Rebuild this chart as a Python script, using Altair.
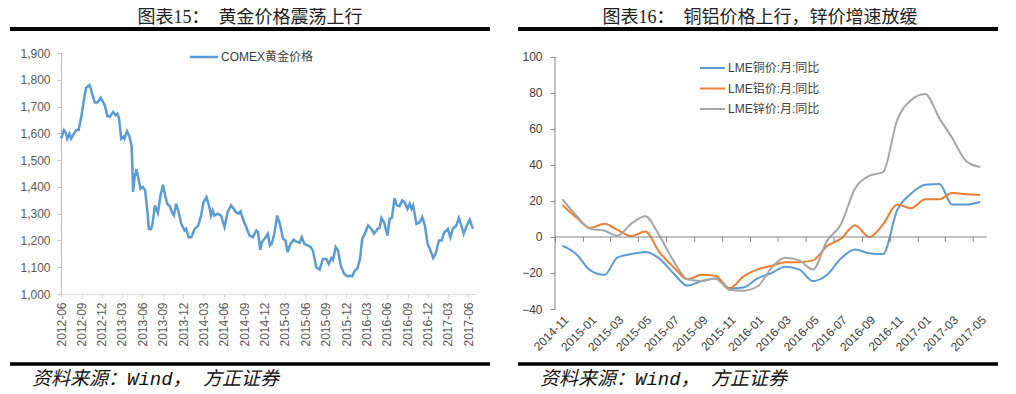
import altair as alt
import pandas as pd

# ---------------- data: left panel (COMEX gold) ----------------
gold_dates = [
    "2012-06-01","2012-06-14","2012-06-24","2012-06-29","2012-07-09","2012-07-16","2012-08-08","2012-08-19","2012-08-31","2012-09-15",
    "2012-09-22","2012-10-07","2012-10-14","2012-10-30","2012-11-11","2012-11-26","2012-12-06","2012-12-14","2012-12-26","2013-01-06",
    "2013-01-21","2013-01-31","2013-02-09","2013-02-16","2013-02-26","2013-03-08","2013-03-12","2013-03-24","2013-04-04","2013-04-14",
    "2013-04-20","2013-04-26","2013-05-05","2013-05-14","2013-05-23","2013-06-03","2013-06-13","2013-06-22","2013-06-30","2013-07-10",
    "2013-07-17","2013-07-27","2013-08-09","2013-08-21","2013-09-01","2013-09-11","2013-09-20","2013-10-01","2013-10-11","2013-10-20",
    "2013-10-30","2013-11-10","2013-11-22","2013-12-07","2013-12-14","2013-12-25","2014-01-06","2014-01-21","2014-02-05","2014-02-19",
    "2014-03-02","2014-03-15","2014-03-28","2014-04-04","2014-04-12","2014-04-19","2014-05-04","2014-05-19","2014-06-04","2014-06-18",
    "2014-07-03","2014-07-15","2014-07-25","2014-08-06","2014-08-15","2014-08-25","2014-09-09","2014-09-24","2014-10-09","2014-10-24",
    "2014-11-01","2014-11-11","2014-11-18","2014-11-30","2014-12-15","2014-12-24","2015-01-01","2015-01-13","2015-01-26","2015-02-07",
    "2015-02-21","2015-03-04","2015-03-14","2015-03-26","2015-04-10","2015-04-21","2015-05-06","2015-05-16","2015-05-28","2015-06-13",
    "2015-06-25","2015-07-05","2015-07-20","2015-08-04","2015-08-19","2015-09-04","2015-09-14","2015-09-26","2015-10-03","2015-10-15",
    "2015-10-26","2015-11-07","2015-11-22","2015-12-07","2015-12-17","2015-12-28","2016-01-09","2016-01-21","2016-02-01","2016-02-11",
    "2016-02-23","2016-03-08","2016-03-23","2016-04-04","2016-04-19","2016-04-29","2016-05-07","2016-05-19","2016-06-03","2016-06-13",
    "2016-06-23","2016-07-05","2016-07-15","2016-07-27","2016-08-08","2016-08-20","2016-09-01","2016-09-11","2016-09-19","2016-09-26",
    "2016-10-11","2016-10-26","2016-11-06","2016-11-18","2016-11-30","2016-12-10","2016-12-25","2017-01-05","2017-01-20","2017-02-01",
    "2017-02-13","2017-02-23","2017-03-01","2017-03-12","2017-03-23","2017-04-08","2017-04-19","2017-04-30","2017-05-11","2017-05-22",
    "2017-06-07","2017-06-21",
]
gold_values = [
    1580,1612,1599,1580,1599,1580,1612,1612,1662,1743,
    1770,1780,1761,1715,1715,1733,1718,1705,1665,1662,
    1680,1668,1674,1655,1580,1587,1580,1608,1587,1550,
    1381,1431,1466,1431,1393,1400,1387,1318,1243,1243,
    1268,1331,1303,1368,1408,1368,1337,1328,1306,1293,
    1337,1306,1262,1237,1243,1212,1212,1243,1254,1293,
    1343,1362,1325,1293,1312,1293,1300,1293,1250,1306,
    1331,1318,1306,1300,1308,1281,1250,1218,1212,1237,
    1231,1165,1193,1206,1225,1181,1187,1225,1293,1262,
    1206,1200,1156,1187,1203,1196,1191,1212,1187,1181,
    1175,1162,1100,1091,1131,1131,1112,1134,1127,1175,
    1162,1106,1075,1066,1068,1066,1087,1096,1131,1206,
    1225,1256,1243,1225,1243,1247,1284,1268,1218,1281,
    1284,1358,1331,1328,1350,1341,1318,1337,1318,1331,
    1262,1268,1287,1256,1187,1169,1134,1150,1200,1200,
    1231,1237,1243,1212,1243,1256,1284,1256,1225,1250,
    1278,1243,
]
gold_name = "COMEX黄金价格"
left_tick_dates = [
    "2012-06-01","2012-09-01","2012-12-01","2013-03-01","2013-06-01","2013-09-01","2013-12-01",
    "2014-03-01","2014-06-01","2014-09-01","2014-12-01","2015-03-01","2015-06-01","2015-09-01",
    "2015-12-01","2016-03-01","2016-06-01","2016-09-01","2016-12-01","2017-03-01","2017-06-01",
]
left_y_ticks = [1000, 1100, 1200, 1300, 1400, 1500, 1600, 1700, 1800, 1900]

# ---------------- data: right panel (LME metals, YoY %) ----------------
months = [
    "2014-11-01","2014-12-01","2015-01-01","2015-02-01","2015-03-01","2015-04-01","2015-05-01","2015-06-01",
    "2015-07-01","2015-08-01","2015-09-01","2015-10-01","2015-11-01","2015-12-01","2016-01-01","2016-02-01",
    "2016-03-01","2016-04-01","2016-05-01","2016-06-01","2016-07-01","2016-08-01","2016-09-01","2016-10-01",
    "2016-11-01","2016-12-01","2017-01-01","2017-02-01","2017-03-01","2017-04-01","2017-05-01",
]
copper = [-4.8,-9.4,-18.5,-21,-11.5,-9.5,-8.3,-12,-20,-27,-24.5,-23,-28.5,-28,-23,-20,
          -16.5,-18,-24.5,-21,-12,-7,-9,-9.5,15,24,29,29.5,18,18,19.4]
aluminum = [17.8,11,5,7.3,4,0.5,3,-8.5,-16.5,-23.5,-21,-21.5,-28.5,-22,-18,-16,
            -14,-14,-13,-5,-1,6.5,0,7,18,16,21,21,24.4,23.8,23.3]
zinc = [21,12,4.5,3.5,0.7,7.5,11.5,0.7,-13,-23.5,-24.5,-23,-29.3,-29.8,-27.5,-17,
        -11.5,-13,-18,-2,7,27,34,36,65,76,79.5,66,55,42,38.9]
series_names = ["LME铜价:月:同比", "LME铝价:月:同比", "LME锌价:月:同比"]
series_colors = ["#5B9BD5", "#ED7D31", "#A5A5A5"]
right_label_dates = months[::2]
right_y_ticks = [-40, -20, 0, 20, 40, 60, 80, 100]

titles = ["图表15：\u3000黄金价格震荡上行", "图表16：\u3000铜铝价格上行，锌价增速放缓"]
source_text = "资料来源：Wind， 方正证券"

# ---------------- helpers ----------------
def dt(s):
    y, m, d = (int(v) for v in s.split("-"))
    return alt.DateTime(year=y, month=m, date=d, utc=True)

SANS = "Liberation Sans, Noto Sans CJK SC"
SERIF = "Liberation Serif, Noto Sans CJK SC"
FOOT = "Liberation Mono, Noto Sans CJK SC"
one = pd.DataFrame({"k": [0]})


def decorations(title, title_x, rule_x0, rule_x1):
    t = alt.Chart(one).mark_text(font=SERIF, fontSize=18, color="#222222",
                                 align="center", baseline="middle").encode(
        x=alt.value(title_x), y=alt.value(-35.5), text=alt.value(title))
    r1 = alt.Chart(one).mark_rule(color="#000000", strokeWidth=4).encode(
        x=alt.value(rule_x0), x2=alt.value(rule_x1), y=alt.value(-24))
    r2 = alt.Chart(one).mark_rule(color="#000000", strokeWidth=3.5).encode(
        x=alt.value(rule_x0), x2=alt.value(rule_x1), y=alt.value(311))
    f = alt.Chart(one).mark_text(font=FOOT, fontSize=19, fontStyle="italic", color="#111111",
                                 align="left", baseline="middle").encode(
        x=alt.value(rule_x0 + 22), y=alt.value(326), text=alt.value(source_text))
    return [t, r1, r2, f]


# ---------------- left panel ----------------
W1, H1 = 415, 241
gold_df = pd.DataFrame({"date": gold_dates, "price": gold_values})

gold_line = alt.Chart(gold_df).mark_line(color="#5B9BD5", strokeWidth=2.5).encode(
    x=alt.X("date:T",
            scale=alt.Scale(type="utc", domain=[dt("2012-06-01"), dt("2017-07-05")]),
            axis=alt.Axis(title=None, values=[dt(s) for s in left_tick_dates], format="%Y-%m",
                          labelAngle=-90, labelAlign="right", labelBaseline="middle",
                          labelFont="Liberation Sans", labelFontSize=12, labelColor="#595959",
                          domainColor="#D9D9D9", tickColor="#D9D9D9", tickSize=4,
                          labelPadding=4, grid=False)),
    y=alt.Y("price:Q",
            scale=alt.Scale(domain=[1000, 1900], nice=False, zero=False),
            axis=alt.Axis(title=None, values=left_y_ticks, format=",.0f",
                          labelFont="Liberation Sans", labelFontSize=12, labelColor="#595959",
                          domainColor="#BFBFBF", tickColor="#BFBFBF", tickSize=4,
                          labelPadding=7, grid=False)),
)

gold_leg_line = alt.Chart(one).mark_rule(color="#5B9BD5", strokeWidth=2.5).encode(
    x=alt.value(129), x2=alt.value(157), y=alt.value(4))
gold_leg_text = alt.Chart(one).mark_text(font=SANS, fontSize=12, color="#404040",
                                         align="left", baseline="middle").encode(
    x=alt.value(160), y=alt.value(4), text=alt.value(gold_name))

left = alt.layer(
    gold_line, gold_leg_line, gold_leg_text,
    *decorations(titles[0], 189, -51, 429)
).properties(width=W1, height=H1)

# ---------------- right panel ----------------
W2, H2 = 432, 256
rows = []
for name, vals in zip(series_names, [copper, aluminum, zinc]):
    for m, v in zip(months, vals):
        rows.append({"month": m, "yoy": v, "series": name})
metal_df = pd.DataFrame(rows)

x_scale_r = alt.Scale(type="utc", domain=[dt("2014-10-16"), dt("2017-05-16")])
y_scale_r = alt.Scale(domain=[-40, 102.22], nice=False, zero=False)
color_r = alt.Scale(domain=series_names, range=series_colors)

metal_lines = alt.Chart(metal_df).mark_line(strokeWidth=2, interpolate="monotone").encode(
    x=alt.X("month:T", scale=x_scale_r,
            axis=alt.Axis(title=None, values=[dt(s) for s in right_label_dates], format="%Y-%m",
                          labelAngle=-45, labelAlign="right", labelBaseline="top",
                          labelFont="Liberation Sans", labelFontSize=12, labelColor="#404040",
                          domain=False, ticks=False, labelPadding=5, grid=False,
                          labelOverlap=False, labelBound=False)),
    y=alt.Y("yoy:Q", scale=y_scale_r,
            axis=alt.Axis(title=None, values=right_y_ticks,
                          labelFont="Liberation Sans", labelFontSize=12, labelColor="#404040",
                          domain=False, tickColor="#868686", tickSize=5,
                          labelPadding=8, grid=False, labelOverlap=False, labelBound=False)),
    color=alt.Color("series:N", scale=color_r, legend=None),
)

y_axis_line = alt.Chart(one).mark_rule(color="#868686", strokeWidth=1).encode(
    x=alt.value(0), y=alt.YDatum(-40, axis=None), y2=alt.Y2Datum(100))

zero_rule = alt.Chart(one).mark_rule(color="#868686", strokeWidth=1).encode(
    x=alt.value(0), x2=alt.value(W2), y=alt.YDatum(0, axis=None))

bounds_df = pd.DataFrame({
    "b": [(pd.Timestamp(s) - pd.Timedelta(days=15)).strftime("%Y-%m-%d") for s in right_label_dates]
})
zero_ticks = alt.Chart(bounds_df).mark_rule(color="#868686", strokeWidth=1).encode(
    x=alt.X("b:T", scale=x_scale_r, axis=None),
    y=alt.YDatum(0, axis=None), y2=alt.Y2Datum(-2.8))

leg_df = pd.DataFrame({"series": series_names, "i": [0, 1, 2]})
leg_y = alt.Y("i:O", scale=alt.Scale(type="point", range=[15, 56], padding=0), axis=None)
leg_lines = alt.Chart(leg_df).mark_rule(strokeWidth=2).encode(
    x=alt.value(145), x2=alt.value(170), y=leg_y,
    color=alt.Color("series:N", scale=color_r, legend=None),
)
leg_text = alt.Chart(leg_df).mark_text(font=SANS, fontSize=12, color="#404040",
                                       align="left", baseline="middle").encode(
    x=alt.value(173), y=leg_y, text="series:N",
)

right = alt.layer(
    metal_lines, y_axis_line, zero_rule, zero_ticks,
    *decorations(titles[1], 205, -37, 443)
).resolve_axis(x="independent", y="independent").properties(width=W2, height=H2)

right_legend = alt.layer(leg_lines, leg_text)
right_full = alt.layer(right, right_legend).resolve_scale(y="independent")

chart = alt.hconcat(left, right_full, spacing=24).properties(
    padding={"left": 0, "top": 0, "right": 0, "bottom": 6}
).configure_view(stroke=None)

chart.save("out.html", embed_options={"renderer": "svg", "actions": False})
